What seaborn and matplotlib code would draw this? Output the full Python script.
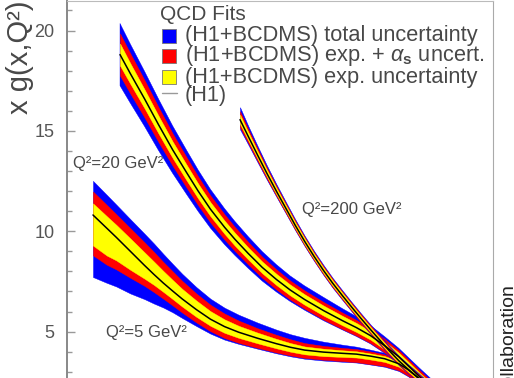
import numpy as np
import pandas as pd
import matplotlib.pyplot as plt
import seaborn as sns
from matplotlib.patches import Rectangle
from matplotlib.ticker import MultipleLocator, NullLocator

# x is given as log10(x)
# Q2 = 5 GeV2
q5_logx = [-4.247, -4.1, -4.0, -3.85, -3.7, -3.6, -3.5, -3.4, -3.3, -3.15, -3.0, -2.85, -2.7, -2.5,
           -2.3, -2.15, -2.0, -1.8, -1.6, -1.45, -1.3, -1.15, -1.0, -0.9, -0.8, -0.7, -0.6, -0.5]
q5_g = [10.81, 10.15, 9.7, 9.0, 8.3, 7.85, 7.42, 7.02, 6.63, 6.1, 5.62, 5.25, 4.97, 4.67,
        4.4, 4.22, 4.08, 3.98, 3.92, 3.88, 3.78, 3.65, 3.4, 3.1, 2.72, 2.3, 1.9, 1.5]
q5_yel_up = [.58, .60, .62, .64, .65, .64, .60, .55, .50, .45, .40, .36, .32, .28,
             .24, .21, .18, .17, .15, .14, .13, .13, .13, .13, .13, .13, .13, .13]
q5_red_up = [1.17, 1.16, 1.15, 1.15, 1.15, 1.12, 1.05, .98, .90, .80, .72, .65, .58, .50,
             .44, .40, .35, .31, .27, .25, .23, .21, .20, .20, .20, .20, .20, .20]
q5_tot_up = [1.70, 1.66, 1.63, 1.60, 1.58, 1.54, 1.45, 1.35, 1.25, 1.12, 1.02, .94, .87, .78,
             .70, .65, .61, .52, .43, .37, .32, .29, .26, .25, .25, .25, .25, .25]
q5_yel_dn = [1.52, 1.36, 1.15, .92, .66, .52, .44, .40, .38, .36, .33, .31, .28, .25,
             .23, .22, .21, .20, .18, .17, .17, .16, .15, .15, .15, .15, .15, .15]
q5_red_dn = [2.01, 1.82, 1.60, 1.32, 1.02, .88, .78, .72, .68, .64, .60, .57, .53, .48,
             .44, .41, .39, .38, .39, .40, .40, .37, .33, .30, .30, .30, .30, .30]
q5_tot_dn = [3.09, 2.72, 2.45, 2.10, 1.68, 1.45, 1.22, 1.06, .95, .82, .72, .65, .58, .52,
             .48, .45, .43, .42, .42, .42, .42, .40, .36, .33, .33, .33, .33, .33]

# Q2 = 20 GeV2
q20_logx = [-3.96, -3.85, -3.7, -3.55, -3.4, -3.25, -3.13, -3.0, -2.85, -2.74, -2.6, -2.45, -2.3,
            -2.155, -2.0, -1.8, -1.6, -1.45, -1.3, -1.15, -1.0, -0.9, -0.78, -0.65, -0.5]
q20_g = [18.8, 17.85, 16.6, 15.3, 14.05, 12.9, 12.0, 11.1, 10.2, 9.6, 8.9, 8.2, 7.6,
         7.08, 6.6, 6.05, 5.55, 5.2, 4.8, 4.3, 3.75, 3.3, 2.76, 2.2, 1.55]
q20_yel_up = [.55, .51, .47, .44, .41, .39, .37, .35, .33, .32, .30, .29, .28,
              .27, .26, .25, .24, .23, .22, .21, .20, .20, .20, .20, .20]
q20_red_up = [1.05, 1.0, .93, .87, .81, .76, .72, .68, .64, .61, .57, .53, .50,
              .47, .45, .43, .40, .38, .36, .34, .32, .32, .32, .32, .32]
q20_tot_up = [1.55, 1.47, 1.37, 1.28, 1.19, 1.11, 1.05, .99, .93, .89, .84, .79, .74,
              .70, .68, .66, .60, .55, .50, .45, .42, .42, .42, .42, .42]
q20_yel_dn = [.55, .51, .47, .44, .41, .39, .37, .35, .33, .32, .30, .29, .28,
              .27, .26, .25, .23, .22, .20, .19, .18, .18, .18, .18, .18]
q20_red_dn = [1.05, 1.0, .93, .87, .80, .75, .71, .67, .62, .59, .55, .52, .50,
              .48, .46, .45, .42, .40, .37, .34, .32, .32, .32, .32, .32]
q20_tot_dn = [1.55, 1.47, 1.37, 1.28, 1.17, 1.08, 1.01, .94, .86, .80, .74, .68, .62,
              .57, .53, .50, .46, .44, .41, .38, .36, .36, .36, .36, .36]

# Q2 = 200 GeV2
q200_logx = [-2.686, -2.6, -2.5, -2.4, -2.3, -2.2, -2.1, -2.0, -1.9, -1.8, -1.7, -1.6, -1.5,
             -1.4, -1.3, -1.2, -1.1, -1.0, -0.9, -0.8, -0.65, -0.5]
q200_g = [15.56, 14.74, 13.8, 12.88, 12.0, 11.15, 10.3, 9.5, 8.75, 8.05, 7.4, 6.8, 6.22,
          5.65, 5.1, 4.57, 4.04, 3.55, 3.12, 2.72, 2.1, 1.5]
q200_yel_up = [.25, .22, .20, .18, .17, .16, .15, .15, .14, .14, .14, .14, .13,
               .13, .13, .13, .13, .13, .13, .13, .13, .13]
q200_red_up = [.42, .36, .32, .28, .26, .24, .23, .22, .21, .21, .21, .20, .20,
               .20, .20, .20, .20, .20, .20, .20, .20, .20]
q200_tot_up = [.62, .52, .45, .39, .35, .32, .30, .28, .27, .27, .26, .26, .25,
               .25, .25, .25, .25, .25, .25, .25, .25, .25]
q200_yel_dn = [.22, .20, .18, .16, .15, .14, .14, .14, .13, .13, .13, .12, .12,
               .12, .12, .12, .12, .12, .12, .12, .12, .12]
q200_red_dn = [.38, .33, .30, .27, .24, .23, .22, .21, .20, .20, .20, .19, .19,
               .19, .19, .19, .19, .19, .19, .19, .19, .19]
q200_tot_dn = [.48, .41, .36, .32, .28, .26, .25, .24, .23, .23, .23, .22, .22,
               .22, .22, .22, .22, .22, .22, .22, .22, .22]

legend_title = 'QCD Fits'
legend_labels = ['(H1+BCDMS) total uncertainty',
                 r'(H1+BCDMS) exp. + $\alpha_{\mathbf{s}}$ uncert.',
                 '(H1+BCDMS) exp. uncertainty',
                 '(H1)']
band_colors = ['#0000ff', '#ff0000', '#ffff00']

sns.set_theme(style='white')
plt.rcParams['font.family'] = ['Liberation Sans', 'DejaVu Sans']
plt.rcParams['mathtext.fontset'] = 'custom'
plt.rcParams['mathtext.it'] = 'Liberation Sans:italic'
plt.rcParams['mathtext.bf'] = 'Liberation Sans:bold'

W, H = 514, 378
fig = plt.figure(figsize=(W / 100, H / 100), dpi=100)
ax = fig.add_axes([67 / W, 0, 426 / W, 377 / H])


def fx(px):
    return px / W


def fy(py):
    return 1 - py / H


def draw_fit(logx, g, yu, ru, tu, yd, rd, td):
    df = pd.DataFrame({'x': 10 ** np.array(logx), 'g': g})
    gc = df['g'].to_numpy()
    for col, up, dn in zip(band_colors, [tu, ru, yu], [td, rd, yd]):
        ax.fill_between(df['x'], gc + np.array(up), gc - np.array(dn),
                        color=col, lw=0.3, ec=col)
    sns.lineplot(data=df, x='x', y='g', color='black', lw=1.1, ax=ax, sort=False)


draw_fit(q5_logx, q5_g, q5_yel_up, q5_red_up, q5_tot_up, q5_yel_dn, q5_red_dn, q5_tot_dn)
draw_fit(q20_logx, q20_g, q20_yel_up, q20_red_up, q20_tot_up, q20_yel_dn, q20_red_dn, q20_tot_dn)
draw_fit(q200_logx, q200_g, q200_yel_up, q200_red_up, q200_tot_up, q200_yel_dn, q200_red_dn, q200_tot_dn)

ax.set_xscale('log')
ax.set_xlim(3e-5, 1)
ax.set_ylim(2.69, 21.47)
ax.set_xlabel('')
ax.set_ylabel('')
ax.xaxis.set_major_locator(NullLocator())
ax.xaxis.set_minor_locator(NullLocator())
ax.yaxis.set_major_locator(MultipleLocator(5))
ax.yaxis.set_minor_locator(MultipleLocator(1))
ax.tick_params(axis='y', which='both', direction='in', left=True, right=False,
               color='#999999', labelcolor='#555555', labelsize=13, pad=9)
ax.tick_params(axis='y', which='major', length=6, width=1)
ax.tick_params(axis='y', which='minor', length=3.6, width=1)
ax.spines['bottom'].set_visible(False)
ax.spines['left'].set_color('#888888')
ax.spines['left'].set_linewidth(1.4)
ax.spines['top'].set_color('#bbbbbb')
ax.spines['top'].set_linewidth(0.8)
ax.spines['right'].set_color('#aaaaaa')
ax.spines['right'].set_linewidth(0.8)

txt = '#484848'
ax.text(3.47e-5, 13.4, 'Q²=20 GeV²', fontsize=12, color=txt, va='center')
ax.text(7.78e-5, 4.98, 'Q²=5 GeV²', fontsize=12, color=txt, va='center')
ax.text(9.38e-3, 11.06, 'Q²=200 GeV²', fontsize=12, color=txt, va='center')

# legend, drawn by hand to match the row spacing of the original
fig.text(fx(160), fy(15), legend_title, fontsize=15, color=txt, va='center', ha='left')
rows = [36, 56, 77, 96]
for col, yc in zip(band_colors, rows[:3]):
    fig.add_artist(Rectangle((fx(162), fy(yc + 7)), 14 / W, 14 / H,
                             transform=fig.transFigure, fc=col, ec='#777777', lw=0.6))
fig.add_artist(plt.Line2D([fx(162), fx(177)], [fy(93), fy(93)],
                          transform=fig.transFigure, color='#999999', lw=1))
for lab, yc in zip(legend_labels, rows):
    fig.text(fx(185), fy(yc), lab, fontsize=15.7, color=txt, va='center', ha='left')

fig.text(fx(20), fy(1), 'x g(x,Q²)', fontsize=21, color=txt, rotation=90,
         ha='center', va='top')
fig.text(fx(510), fy(285), 'H1 Collaboration', fontsize=14, color='#222222',
         rotation=90, ha='center', va='top')

fig.savefig('out.png', dpi=100)
